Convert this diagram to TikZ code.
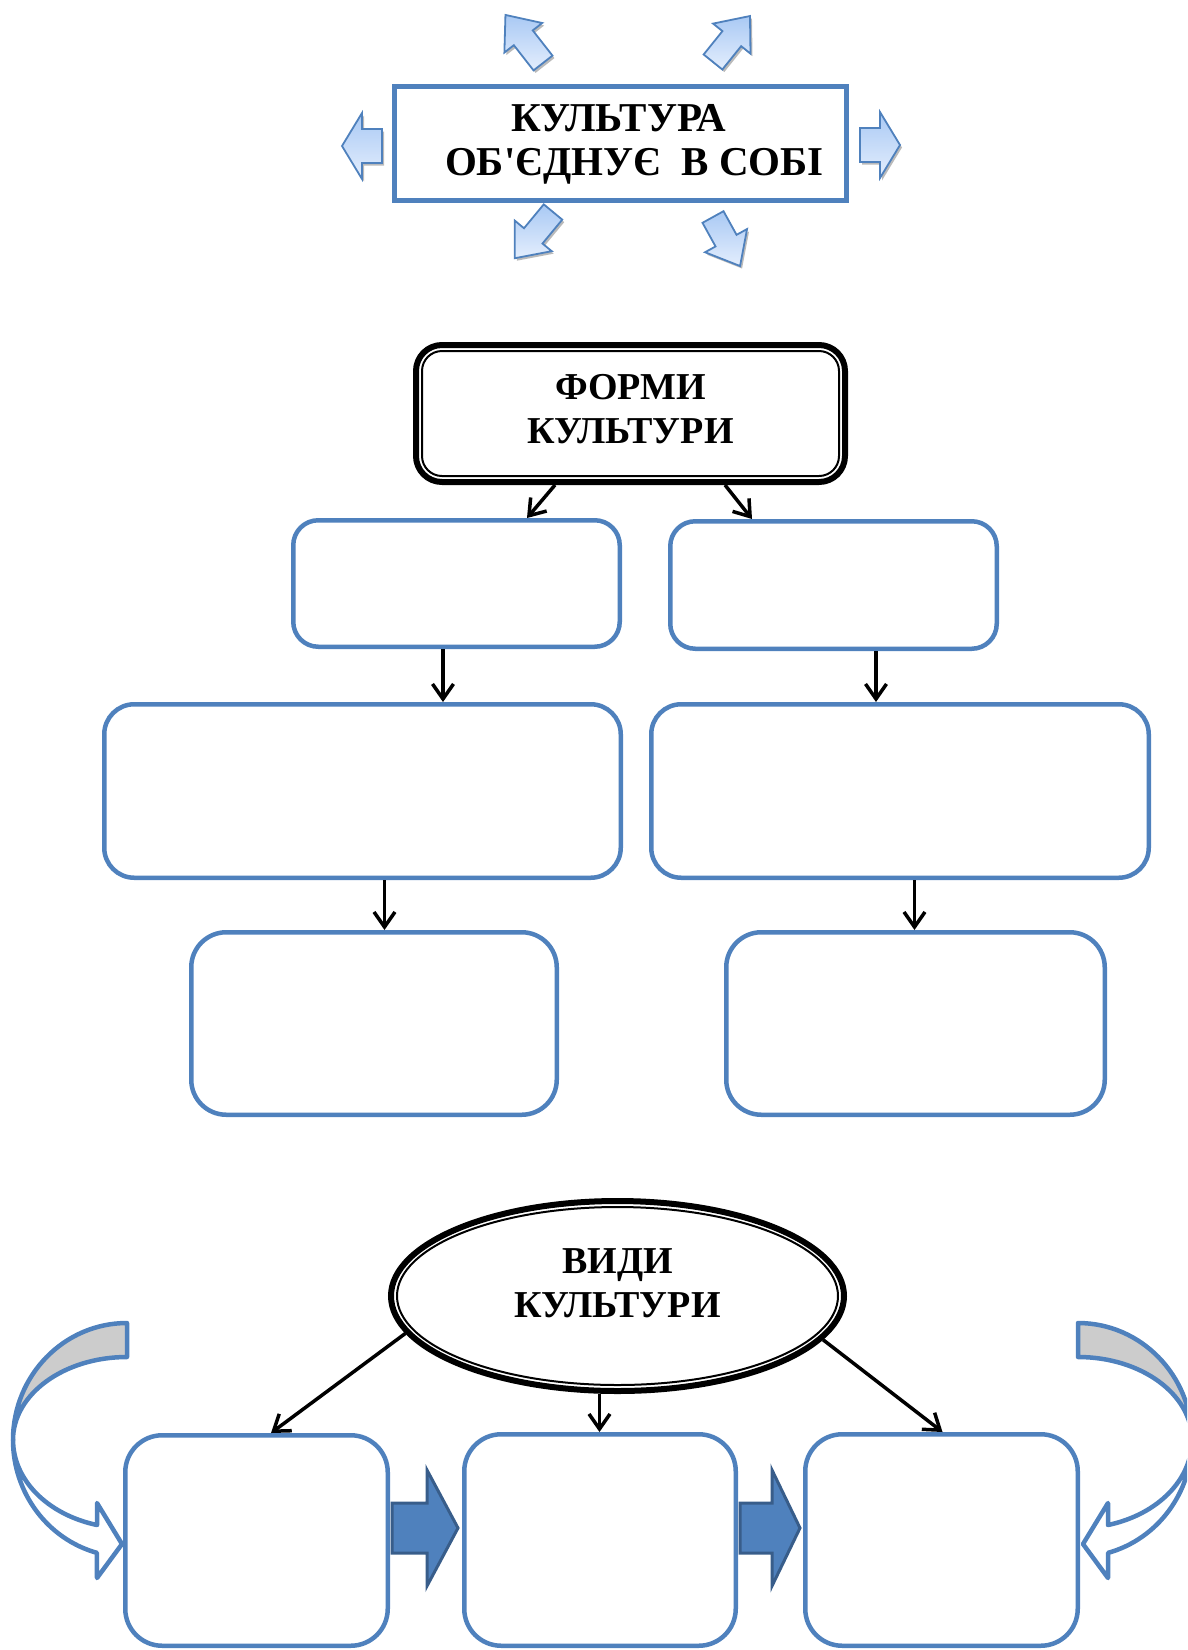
\documentclass[tikz,border=0pt]{standalone}
\usepackage{fontspec}
\setmainfont{Liberation Serif}[Ligatures=TeXOff]
\usetikzlibrary{arrows.meta,shapes.geometric,shadows}
\definecolor{myblue}{HTML}{4F81BD}
\definecolor{dkblue}{HTML}{385D8A}
\definecolor{bandgray}{HTML}{CCCCCC}
\definecolor{lblueA}{HTML}{E4EEFD}
\definecolor{lblueB}{HTML}{A9C9F4}
% block arrow: style, tail x, tail y, angle, length, shaft half, head half, head length
\newcommand{\blk}[8]{%
  \draw[#1, shift={(#2,#3)}, rotate=#4]
    (0,#6) -- ({#5-#8},#6) -- ({#5-#8},#7) -- (#5,0) -- ({#5-#8},-#7)
    -- ({#5-#8},-#6) -- (0,-#6) -- cycle;}
\begin{document}
\begin{tikzpicture}[x=1pt,y=-1pt,
  wbox/.style={draw=myblue, line width=4.5pt, fill=white, inner sep=0pt},
  conn/.style={draw=black, line width=3.5pt, -{Straight Barb[length=15pt,width=21pt]}},
  ltxt/.style={font=\fontsize{38}{44}\selectfont\bfseries, align=center, inner sep=0pt},
  lightblk/.style={draw=myblue, line width=1.8pt, line join=miter, top color=lblueB, bottom color=lblueA,
     drop shadow={shadow xshift=2pt, shadow yshift=-2.5pt, opacity=0.45, fill=black!60}},
  darkblk/.style={draw=dkblue, line width=3pt, fill=myblue, line join=miter},
  band/.style={draw=myblue, line width=4.5pt, line join=round}]
\useasboundingbox (0,0) rectangle (1187,1650);
\clip (0,0) rectangle (1187,1650);

% ---------- top block ----------
\node[draw=myblue, line width=5pt, minimum width=452pt, minimum height=114pt, inner sep=0pt] (kult) at (620.5,143.5) {};
\node[ltxt, font=\fontsize{41}{44}\selectfont\bfseries] (kultT) at (634.5,144) {КУЛЬТУРА\kern31pt\\ОБ'ЄДНУЄ\ \ В СОБІ};

\blk{lightblk}{382}{146}{180}{40}{17}{33}{20}
\blk{lightblk}{860}{145}{0}{40}{17}{33}{20}
\blk{lightblk}{543}{63}{128}{61}{12}{24}{29}
\blk{lightblk}{713}{62}{51.2}{59}{12}{24}{29}
\blk{lightblk}{553}{212}{230.4}{60}{12}{24}{29}
\blk{lightblk}{713}{217}{298.9}{56}{12}{24}{29}

% ---------- forms ----------
\node[draw=black, line width=6pt, rounded corners=26pt, minimum width=429pt, minimum height=137pt, inner sep=0pt] (forms) at (630.5,413.5) {};
\node[draw=black, line width=2pt, rounded corners=20pt, minimum width=417pt, minimum height=125pt, inner sep=0pt] (formsin) at (630.5,413.5) {};
\node[ltxt] (formsT) at (630.5,409) {ФОРМИ\\КУЛЬТУРИ};

\node[wbox, rounded corners=25pt, minimum width=326.5pt, minimum height=126.5pt] (r1l) at (456.5,583.5) {};
\node[wbox, rounded corners=25pt, minimum width=326.5pt, minimum height=127.5pt] (r1r) at (833.5,585) {};
\node[wbox, rounded corners=30pt, minimum width=516.5pt, minimum height=173.5pt] (r2l) at (362.5,791) {};
\node[wbox, rounded corners=30pt, minimum width=497.5pt, minimum height=173.5pt] (r2r) at (900,791) {};
\node[wbox, rounded corners=35pt, minimum width=365.5pt, minimum height=182.5pt] (r3l) at (374,1023.5) {};
\node[wbox, rounded corners=35pt, minimum width=378.5pt, minimum height=182.5pt] (r3r) at (915.5,1023.5) {};

\draw[conn] ([xshift=-75.5pt]forms.south) -- ([xshift=70.5pt]r1l.north);
\draw[conn] ([xshift=94.5pt]forms.south) -- ([xshift=-81.5pt]r1r.north);
\draw[conn] ([xshift=-13.5pt]r1l.south) -- ([xshift=80.5pt]r2l.north);
\draw[conn] ([xshift=42.5pt]r1r.south) -- ([xshift=-24pt]r2r.north);
\draw[conn] ([xshift=22pt]r2l.south) -- ([xshift=10.5pt]r3l.north);
\draw[conn] ([xshift=14.5pt]r2r.south) -- ([xshift=-1pt]r3r.north);

% ---------- kinds ----------
\node[ellipse, draw=black, line width=6pt, minimum width=453pt, minimum height=190pt, inner sep=0pt] (vid) at (617.5,1296) {};
\node[ellipse, draw=black, line width=2pt, minimum width=441pt, minimum height=178pt, inner sep=0pt] (vidin) at (617.5,1296) {};
\node[ltxt] (vidT) at (617.5,1283) {ВИДИ\\КУЛЬТУРИ};

% curved arrows (left, then mirrored right)
\path[band, fill=bandgray] (127,1323) arc[start angle=270, end angle=180, x radius=114, y radius=117]
   arc[start angle=180, end angle=270, x radius=114, y radius=83] -- cycle;
\path[band, fill=white] (13,1440) arc[start angle=180, end angle=105.3, x radius=114, y radius=117]
   -- (97,1578) -- (122,1544) -- (97,1503) -- (97,1525)
   arc[start angle=105.3, end angle=180, x radius=114, y radius=88] -- cycle;
\begin{scope}[xshift=1205pt, xscale=-1]
\path[band, fill=bandgray] (127,1323) arc[start angle=270, end angle=180, x radius=114, y radius=117]
   arc[start angle=180, end angle=270, x radius=114, y radius=83] -- cycle;
\path[band, fill=white] (13,1440) arc[start angle=180, end angle=105.3, x radius=114, y radius=117]
   -- (97,1578) -- (122,1544) -- (97,1503) -- (97,1525)
   arc[start angle=105.3, end angle=180, x radius=114, y radius=88] -- cycle;
\end{scope}

\node[wbox, rounded corners=37pt, minimum width=262.5pt, minimum height=210.5pt] (bl) at (256.5,1540.5) {};
\node[wbox, rounded corners=37pt, minimum width=271.5pt, minimum height=211.5pt] (bm) at (600,1540) {};
\node[wbox, rounded corners=37pt, minimum width=272.5pt, minimum height=211.5pt] (br) at (941.5,1540) {};

\blk{darkblk}{392}{1528}{0}{66}{25}{58}{31}
\blk{darkblk}{740}{1528}{0}{60}{25}{58}{28}

\draw[conn] (vid.190.2) -- ([xshift=14.5pt]bl.north);
\draw[conn] ([xshift=-18pt]vid.south) -- ([xshift=-0.5pt]bm.north);
\draw[conn] (vid.348.8) -- ([xshift=1pt]br.north);
\end{tikzpicture}
\end{document}
